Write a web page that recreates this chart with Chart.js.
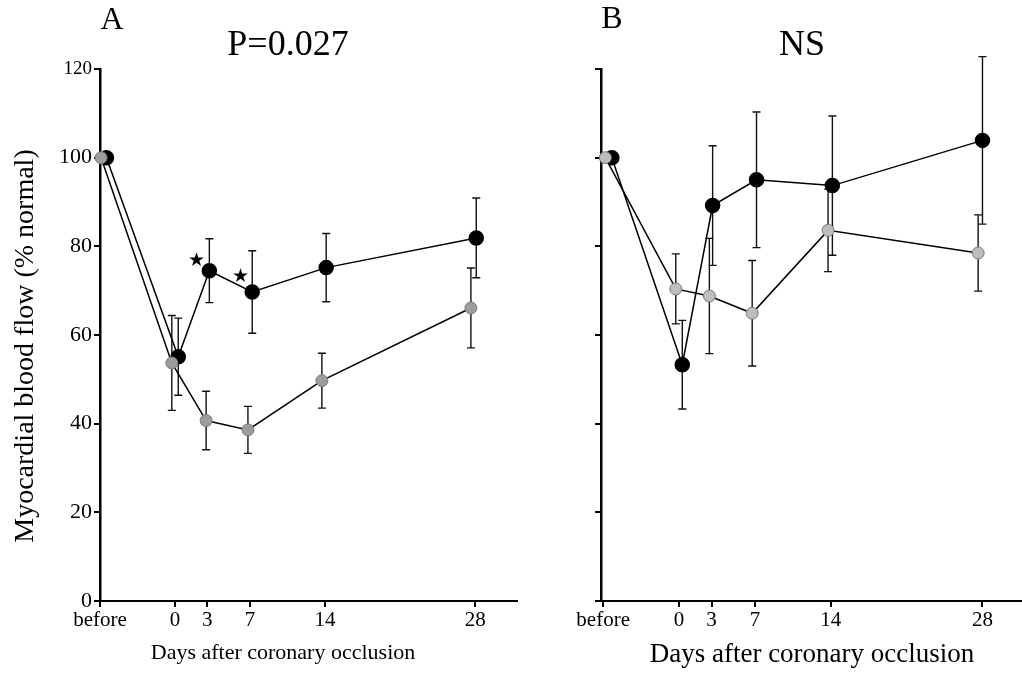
<!DOCTYPE html>
<html>
<head>
<meta charset="utf-8">
<script src="https://cdn.jsdelivr.net/npm/chart.js@4.4.1/dist/chart.umd.min.js"></script>
<style>
  html, body { margin: 0; padding: 0; background: #fff; overflow: hidden; }
  #wrap { position: relative; width: 1022px; height: 674px; overflow: hidden; }
  #panelA { position: absolute; left: 0; top: 0; }
  #panelB { position: absolute; left: 530px; top: 0; }
</style>
</head>
<body>
<div id="wrap">
  <canvas id="panelA" width="530" height="674"></canvas>
  <canvas id="panelB" width="500" height="674"></canvas>
</div>
<script>
// ---- data ----
const xTickValues = [-7, 0, 3, 7, 14, 28];
const xTickLabels = ['before', '0', '3', '7', '14', '28'];
const yTickValues = [0, 20, 40, 60, 80, 100, 120];

// Panel A (P=0.027)
const aBlackX = [-6.4, 0.3, 3.2, 7.2, 14.1, 28.1];
const aBlackMean = [100, 55.1, 74.5, 69.7, 75.2, 81.9];
const aBlackErr = [0, 8.7, 7.2, 9.3, 7.7, 9.0];
const aGrayX = [-6.9, -0.3, 2.9, 6.8, 13.7, 27.6];
const aGrayMean = [100, 53.7, 40.7, 38.6, 49.7, 66.1];
const aGrayErr = [0, 10.7, 6.6, 5.3, 6.2, 9.0];
const aStarX = [2.0, 6.1];
const aStarY = [76.8, 73.0];

// Panel B (NS)
const bBlackX = [-6.2, 0.3, 3.1, 7.15, 14.15, 28.0];
const bBlackMean = [100, 53.3, 89.2, 95.0, 93.7, 103.9];
const bBlackErr = [0, 10.0, 13.5, 15.3, 15.7, 18.9];
const bGrayX = [-6.8, -0.3, 2.8, 6.75, 13.75, 27.6];
const bGrayMean = [100, 70.4, 68.8, 64.9, 83.6, 78.5];
const bGrayErr = [0, 7.9, 13.0, 11.9, 9.3, 8.6];

const SERIF = "'Liberation Serif', 'Times New Roman', serif";

function toPoints(xs, ys) {
    return xs.map((x, i) => ({ x: x, y: ys[i] }));
}

// error bars (vertical with caps), drawn under the markers
const errorBarPlugin = {
    id: 'errorBars',
    beforeDatasetsDraw(chart) {
        const { ctx, scales } = chart;
        ctx.save();
        ctx.strokeStyle = '#111';
        ctx.lineWidth = 1.4;
        chart.data.datasets.forEach(ds => {
            (ds.errors || []).forEach((e, i) => {
                if (!e) return;
                const p = ds.data[i];
                const px = scales.x.getPixelForValue(p.x);
                const top = scales.y.getPixelForValue(p.y + e);
                const bot = scales.y.getPixelForValue(p.y - e);
                ctx.beginPath();
                ctx.moveTo(px, top); ctx.lineTo(px, bot);
                ctx.moveTo(px - 4, top); ctx.lineTo(px + 4, top);
                ctx.moveTo(px - 4, bot); ctx.lineTo(px + 4, bot);
                ctx.stroke();
            });
        });
        ctx.restore();
    }
};

// titles, axis captions and significance stars
const textPlugin = {
    id: 'panelText',
    afterDraw(chart, args, opts) {
        const { ctx, scales } = chart;
        ctx.save();
        ctx.fillStyle = '#000';
        ctx.textAlign = 'center';
        ctx.textBaseline = 'middle';
        ctx.font = '32px ' + SERIF;
        ctx.fillText(opts.letter, opts.letterPos[0], opts.letterPos[1]);
        ctx.font = '36px ' + SERIF;
        ctx.fillText(opts.title, opts.titlePos[0], opts.titlePos[1]);
        ctx.font = opts.xTitleSize + 'px ' + SERIF;
        ctx.fillText('Days after coronary occlusion', opts.xTitlePos[0], opts.xTitlePos[1]);
        if (opts.yTitle) {
            ctx.save();
            ctx.translate(opts.yTitlePos[0], opts.yTitlePos[1]);
            ctx.rotate(-Math.PI / 2);
            ctx.font = '28px ' + SERIF;
            ctx.fillText(opts.yTitle, 0, 0);
            ctx.restore();
        }
        if (opts.starsX) {
            ctx.font = '19px ' + SERIF;
            opts.starsX.forEach((sx, i) => {
                ctx.fillText('\u2605', scales.x.getPixelForValue(sx), scales.y.getPixelForValue(opts.starsY[i]));
            });
        }
        ctx.restore();
    }
};

function makePanel(canvasId, cfg) {
    const ctx = document.getElementById(canvasId).getContext('2d');
    return new Chart(ctx, {
        type: 'scatter',
        data: {
            datasets: [
                {
                    label: 'gray',
                    data: toPoints(cfg.grayX, cfg.grayMean),
                    errors: cfg.grayErr,
                    showLine: true,
                    borderColor: '#000',
                    borderWidth: 1.5,
                    pointRadius: 6,
                    pointBackgroundColor: cfg.grayFill,
                    pointBorderColor: '#7a7a7a',
                    pointBorderWidth: 1,
                    clip: false
                },
                {
                    label: 'black',
                    data: toPoints(cfg.blackX, cfg.blackMean),
                    errors: cfg.blackErr,
                    showLine: true,
                    borderColor: '#000',
                    borderWidth: 1.5,
                    pointRadius: 7,
                    pointBackgroundColor: '#000',
                    pointBorderColor: '#000',
                    clip: false
                }
            ]
        },
        options: {
            responsive: false,
            animation: false,
            layout: { padding: { left: 0, right: cfg.padRight, top: 69, bottom: 0 } },
            plugins: {
                legend: { display: false },
                tooltip: { enabled: false },
                panelText: cfg.text
            },
            scales: {
                x: {
                    type: 'linear',
                    min: cfg.xMin,
                    max: cfg.xMax,
                    afterBuildTicks: axis => { axis.ticks = xTickValues.map(v => ({ value: v })); },
                    afterFit: axis => { axis.height = 73; },
                    border: { display: true, color: '#000', width: 2 },
                    grid: { drawOnChartArea: false, drawTicks: true, tickLength: 6, color: '#000', lineWidth: 2 },
                    ticks: {
                        color: '#000',
                        padding: 1,
                        maxRotation: 0,
                        autoSkip: false,
                        font: { family: SERIF, size: 21 },
                        callback: v => xTickLabels[xTickValues.indexOf(v)]
                    }
                },
                y: {
                    min: 0,
                    max: 120,
                    afterBuildTicks: axis => { axis.ticks = yTickValues.map(v => ({ value: v })); },
                    afterFit: axis => { axis.width = cfg.yWidth; },
                    border: { display: true, color: '#000', width: 2.5 },
                    grid: { drawOnChartArea: false, drawTicks: true, tickLength: 6, color: '#000', lineWidth: 2 },
                    ticks: {
                        color: '#000',
                        padding: 2,
                        font: ctx => ({ family: SERIF, size: ctx.tick && ctx.tick.value === 120 ? 19 : 22 }),
                        callback: v => cfg.showYLabels ? String(v) : ''
                    }
                }
            }
        },
        plugins: [errorBarPlugin, textPlugin]
    });
}

makePanel('panelA', {
    blackX: aBlackX, blackMean: aBlackMean, blackErr: aBlackErr,
    grayX: aGrayX, grayMean: aGrayMean, grayErr: aGrayErr,
    grayFill: '#9c9c9c',
    xMin: -7.0, xMax: 31.9, yWidth: 100, padRight: 13, showYLabels: true,
    text: {
        letter: 'A', letterPos: [112, 21],
        title: 'P=0.027', titlePos: [288, 46],
        xTitleSize: 22, xTitlePos: [283, 653],
        yTitle: 'Myocardial blood flow (% normal)', yTitlePos: [26, 346],
        starsX: aStarX, starsY: aStarY
    }
});

makePanel('panelB', {
    blackX: bBlackX, blackMean: bBlackMean, blackErr: bBlackErr,
    grayX: bGrayX, grayMean: bGrayMean, grayErr: bGrayErr,
    grayFill: '#bdbdbd',
    xMin: -7.2, xMax: 31.6, yWidth: 71, padRight: 0, showYLabels: false,
    text: {
        letter: 'B', letterPos: [82, 20],
        title: 'NS', titlePos: [272, 46],
        xTitleSize: 27, xTitlePos: [282, 655],
        yTitle: null
    }
});
</script>
</body>
</html>
